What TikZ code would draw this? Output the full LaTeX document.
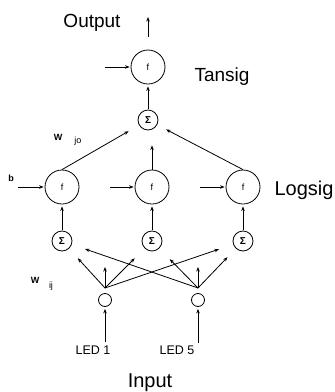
\documentclass[tikz,border=0pt]{standalone}
\usepackage{fontspec}
\setmainfont{Liberation Sans}
\usetikzlibrary{arrows.meta}
\begin{document}
\begin{tikzpicture}[x=1pt,y=-1pt,
  every path/.style={line width=0.8pt},
  arr/.style={-{Stealth[length=4.5pt,width=3.5pt]}},
  fnode/.style={draw,circle,minimum size=34pt,inner sep=0pt,font=\fontsize{9}{9}\selectfont},
  snode/.style={draw,circle,minimum size=20pt,inner sep=0pt,font=\bfseries\fontsize{10}{10}\selectfont},
  inode/.style={draw,circle,minimum size=13pt,inner sep=0pt},
  big/.style={inner sep=0pt,anchor=base,font=\fontsize{19}{19}\selectfont},
  small/.style={inner sep=0pt,anchor=base,font=\fontsize{12.5}{12.5}\selectfont},
  wlab/.style={inner sep=0pt,font=\bfseries\fontsize{9}{9}\selectfont},
  sub/.style={inner sep=0pt,font=\fontsize{9}{9}\selectfont}]
\useasboundingbox (0,0) rectangle (335,392);
% nodes
\node[fnode] (fo) at (148,67) {f};
\node[snode] (so) at (148,120) {Σ};
\node[fnode] (h1) at (62,187) {f};
\node[fnode] (h2) at (152,187) {f};
\node[fnode] (h3) at (243,187) {f};
\node[snode] (s1) at (62,241) {Σ};
\node[snode] (s2) at (152,241) {Σ};
\node[snode] (s3) at (243,241) {Σ};
\node[inode] (i1) at (105,300) {};
\node[inode] (i2) at (198,300) {};
% labels
\node[big] (out) at (92,27) {Output};
\node[big] (tan) at (222,81) {Tansig};
\node[big,font=\fontsize{20}{20}\selectfont] (log) at (304,195) {Logsig};
\node[big,font=\fontsize{20}{20}\selectfont] (inp) at (150,387) {Input};
\node[small] (led1) at (93,354) {LED 1};
\node[small] (led5) at (177,354) {LED 5};
\node[wlab] (b) at (11,178) {b};
\node[wlab] (wjo) at (58,137) {W};
\node[sub] (jo) at (78,141) {jo};
\node[wlab] (wij) at (35,280) {W};
\node[sub] (ij) at (51,286) {ij};
% free-end coordinates
\coordinate (otail) at (148,37);
\coordinate (otop) at (148,17);
\coordinate (bo) at (105,67);
\coordinate (b1) at (18,187);
\coordinate (b2) at (110,187);
\coordinate (b3) at (200,187);
\coordinate (f1) at (105,288);
\coordinate (f2) at (198,288);
\coordinate (u1) at (105,267);
\coordinate (u2) at (198,267);
\coordinate (l1) at (105,342);
\coordinate (l5) at (198,343);
% connectors
\draw[arr] (otail) -- (otop);
\draw[arr,shorten >=1pt] (bo) -- (fo);
\draw[arr,shorten >=2pt,shorten <=1pt] (so) -- (fo);
\draw[arr,shorten >=12pt] (h1.north) -- (so);
\draw[arr,shorten >=15pt] (h2.north) -- (h2.north |- so.south);
\draw[arr,shorten >=10pt] (h3.north) -- (so);
\draw[arr,shorten >=1pt] (b1) -- (h1);
\draw[arr,shorten >=1pt] (b2) -- (h2);
\draw[arr,shorten >=1pt] (b3) -- (h3);
\draw[arr,shorten >=2pt,shorten <=1pt] (s1) -- (h1);
\draw[arr,shorten >=2pt,shorten <=1pt] (s2) -- (h2);
\draw[arr,shorten >=2pt,shorten <=1pt] (s3) -- (h3);
\draw[arr,shorten >=13pt] (f1) -- (s1);
\draw[arr,shorten >=14pt] (f1) -- (s2);
\draw[arr,shorten >=15pt] (f1) -- (s3);
\draw[arr] (f1) -- (u1);
\draw[arr,shorten >=14pt] (f2) -- (s1);
\draw[arr,shorten >=15pt] (f2) -- (s2);
\draw[arr,shorten >=12pt] (f2) -- (s3);
\draw[arr] (f2) -- (u2);
\draw[arr,shorten >=2pt] (l1) -- (i1);
\draw[arr,shorten >=2pt] (l5) -- (i2);
\end{tikzpicture}
\end{document}
